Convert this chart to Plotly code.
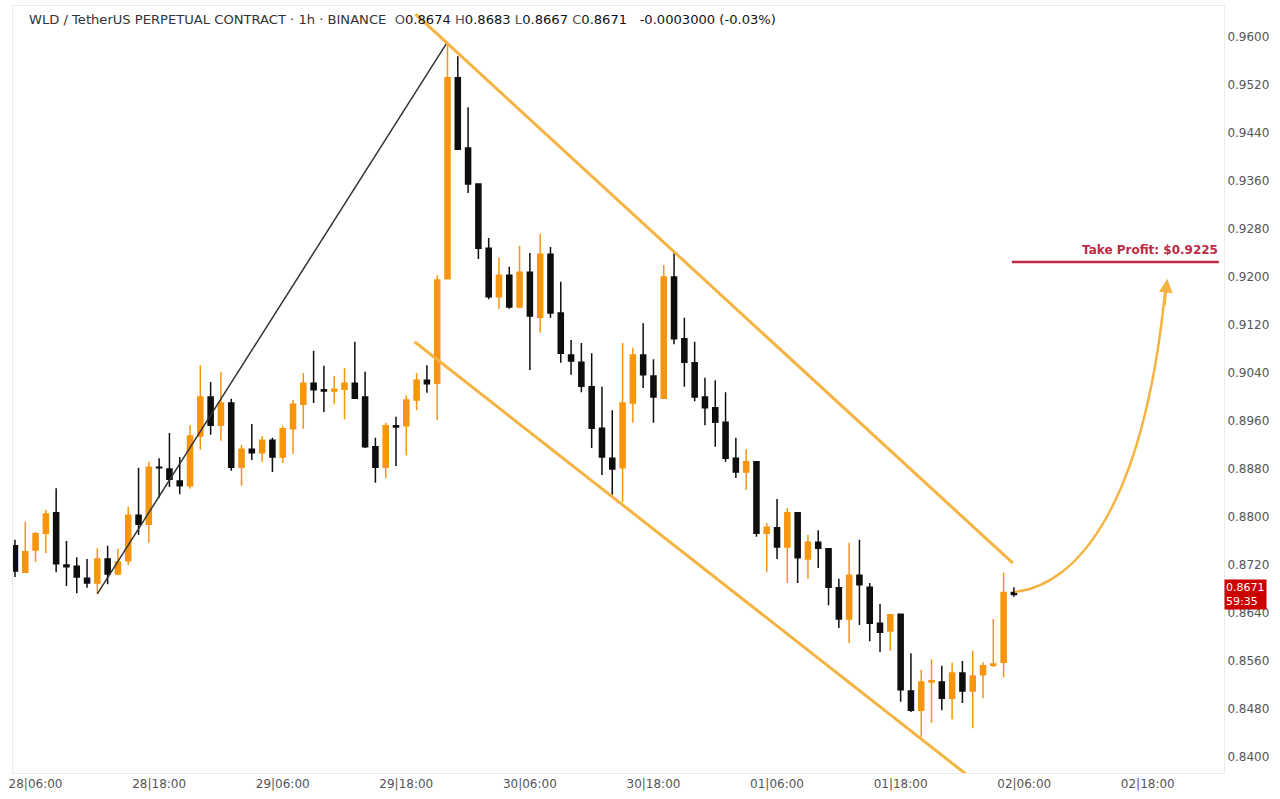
import pandas as pd
import plotly.graph_objects as go

# hourly candles, 28|04:00 -> 02|05:00
START = "2024-09-28 04:00"

opens = [
    0.8752, 0.8708, 0.8745, 0.8773, 0.8807, 0.8720, 0.8718, 0.8698, 0.8690, 0.8730,
    0.8705, 0.8727, 0.8803, 0.8788, 0.8883, 0.8880, 0.8860, 0.8852, 0.8935, 0.9000,
    0.8953, 0.8990, 0.8883, 0.8913, 0.8907, 0.8928, 0.8900, 0.8947, 0.8988, 0.9023,
    0.9012, 0.9010, 0.9013, 0.9023, 0.9000, 0.8917, 0.8883, 0.8952, 0.8952, 0.8995,
    0.9028, 0.9023, 0.9197, 0.9532, 0.9415, 0.9355, 0.9248, 0.9167, 0.9203, 0.9150,
    0.9208, 0.9133, 0.9238, 0.9140, 0.9070, 0.9058, 0.9017, 0.8948, 0.8898, 0.8882,
    0.8990, 0.9070, 0.9035, 0.8998, 0.9200, 0.9097, 0.9057, 0.9000, 0.8982, 0.8958,
    0.8898, 0.8875, 0.8892, 0.8773, 0.8782, 0.8750, 0.8807, 0.8730, 0.8758, 0.8747,
    0.8682, 0.8630, 0.8703, 0.8683, 0.8623, 0.8610, 0.8638, 0.8510, 0.8478, 0.8525,
    0.8525, 0.8498, 0.8540, 0.8510, 0.8537, 0.8553, 0.8558, 0.8674,
]
highs = [
    0.8762, 0.8792, 0.8775, 0.8812, 0.8848, 0.8760, 0.8733, 0.8730, 0.8748, 0.8752,
    0.8747, 0.8817, 0.8882, 0.8892, 0.8898, 0.8940, 0.8900, 0.8953, 0.9053, 0.9025,
    0.9042, 0.8997, 0.8920, 0.8955, 0.8935, 0.8932, 0.8952, 0.8995, 0.9040, 0.9077,
    0.9052, 0.9035, 0.9048, 0.9092, 0.9042, 0.8932, 0.8957, 0.8967, 0.9003, 0.9040,
    0.9053, 0.9203, 0.9592, 0.9568, 0.9483, 0.9355, 0.9265, 0.9232, 0.9217, 0.9252,
    0.9240, 0.9272, 0.9250, 0.9192, 0.9095, 0.9090, 0.9073, 0.9017, 0.8978, 0.9090,
    0.9082, 0.9123, 0.9063, 0.9220, 0.9242, 0.9132, 0.9092, 0.9032, 0.9028, 0.9008,
    0.8932, 0.8913, 0.8892, 0.8790, 0.8830, 0.8815, 0.8807, 0.8770, 0.8778, 0.8748,
    0.8697, 0.8757, 0.8762, 0.8690, 0.8655, 0.8638, 0.8638, 0.8573, 0.8545, 0.8563,
    0.8552, 0.8557, 0.8560, 0.8577, 0.8558, 0.8630, 0.8707, 0.8683,
]
lows = [
    0.8700, 0.8707, 0.8725, 0.8740, 0.8708, 0.8685, 0.8673, 0.8682, 0.8672, 0.8688,
    0.8703, 0.8720, 0.8770, 0.8757, 0.8832, 0.8850, 0.8838, 0.8847, 0.8912, 0.8937,
    0.8927, 0.8877, 0.8852, 0.8895, 0.8892, 0.8875, 0.8890, 0.8905, 0.8947, 0.8990,
    0.8975, 0.8988, 0.8963, 0.8997, 0.8915, 0.8857, 0.8865, 0.8885, 0.8903, 0.8978,
    0.9007, 0.8962, 0.9197, 0.9413, 0.9340, 0.9230, 0.9163, 0.9147, 0.9147, 0.9148,
    0.9045, 0.9107, 0.9132, 0.9057, 0.9037, 0.9008, 0.8915, 0.8870, 0.8837, 0.8825,
    0.8957, 0.9015, 0.8957, 0.8997, 0.9088, 0.9017, 0.8993, 0.8953, 0.8917, 0.8892,
    0.8865, 0.8845, 0.8767, 0.8708, 0.8730, 0.8690, 0.8690, 0.8697, 0.8715, 0.8653,
    0.8615, 0.8590, 0.8620, 0.8593, 0.8575, 0.8577, 0.8492, 0.8475, 0.8433, 0.8457,
    0.8478, 0.8463, 0.8490, 0.8448, 0.8498, 0.8550, 0.8533, 0.8667,
]
closes = [
    0.8710, 0.8742, 0.8772, 0.8805, 0.8722, 0.8717, 0.8700, 0.8690, 0.8730, 0.8705,
    0.8725, 0.8803, 0.8788, 0.8883, 0.8882, 0.8863, 0.8852, 0.8935, 0.9000, 0.8953,
    0.8990, 0.8883, 0.8913, 0.8907, 0.8928, 0.8900, 0.8947, 0.8988, 0.9023, 0.9012,
    0.9010, 0.9013, 0.9023, 0.8998, 0.8917, 0.8883, 0.8952, 0.8950, 0.8995, 0.9028,
    0.9022, 0.9195, 0.9532, 0.9413, 0.9355, 0.9248, 0.9167, 0.9203, 0.9150, 0.9208,
    0.9135, 0.9238, 0.9140, 0.9073, 0.9060, 0.9018, 0.8948, 0.8900, 0.8880, 0.8990,
    0.9070, 0.9037, 0.9000, 0.9200, 0.9097, 0.9058, 0.9000, 0.8982, 0.8958, 0.8898,
    0.8875, 0.8892, 0.8773, 0.8783, 0.8750, 0.8807, 0.8732, 0.8758, 0.8748, 0.8683,
    0.8630, 0.8703, 0.8687, 0.8623, 0.8608, 0.8637, 0.8512, 0.8478, 0.8525, 0.8527,
    0.8498, 0.8540, 0.8510, 0.8535, 0.8552, 0.8555, 0.8674, 0.8671,
]

tick_labels = ["28|06:00", "28|18:00", "29|06:00", "29|18:00", "30|06:00",
               "30|18:00", "01|06:00", "01|18:00", "02|06:00", "02|18:00"]

take_profit = 0.9225
last_price = 0.8671
countdown = "59:35"

UP = "#F7960E"
DOWN = "#0E0E0E"
CHANNEL = "#F5B342"
TP_RED = "#BE2A45"
FONT = "DejaVu Sans"

times = pd.date_range(START, periods=len(opens), freq="h")
tick_times = pd.date_range("2024-09-28 06:00", periods=len(tick_labels), freq="12h")
t0 = pd.Timestamp(START)


def at(hours):
    return t0 + pd.Timedelta(hours=hours)


def path_pt(hours, price):
    return f"{at(hours).strftime('%Y-%m-%d_%H:%M:%S')},{price}"


fig = go.Figure()
fig.add_trace(go.Candlestick(
    x=times, open=opens, high=highs, low=lows, close=closes,
    increasing=dict(line=dict(color=UP, width=1.5), fillcolor=UP),
    decreasing=dict(line=dict(color=DOWN, width=1.5), fillcolor=DOWN),
    whiskerwidth=0,
    showlegend=False,
    hoverinfo="skip",
))

shapes = [
    # rising leg
    dict(type="line", xref="x", yref="y", x0=times[8], y0=lows[8],
         x1=times[42], y1=highs[42], line=dict(color="#333333", width=1.5)),
    # descending channel
    dict(type="line", xref="x", yref="y", x0=at(38.9), y0=0.9638,
         x1=at(96.9), y1=0.8723, line=dict(color=CHANNEL, width=3)),
    dict(type="line", xref="x", yref="y", x0=at(38.8), y0=0.9092,
         x1=at(92.6), y1=0.8368, line=dict(color=CHANNEL, width=3)),
    # take profit
    dict(type="line", xref="x", yref="y", x0=at(96.8), y0=take_profit,
         x1=at(116.9), y1=take_profit, line=dict(color=TP_RED, width=2.5)),
    # projected move
    dict(type="path", xref="x", yref="y",
         path="M " + path_pt(97.1, 0.8675) + " C " + path_pt(103.4, 0.8687) + " "
              + path_pt(109.7, 0.8828) + " " + path_pt(111.7, 0.9180),
         line=dict(color=CHANNEL, width=2.5)),
]

hdr_lbl = "#555555"
hdr_val = "#111111"
nb = "\u00a0"
header = (
    f"WLD / TetherUS PERPETUAL CONTRACT · 1h · BINANCE{nb}{nb}"
    f"<span style='color:{hdr_lbl}'>O</span><span style='color:{hdr_val}'>0.8674</span>{nb}"
    f"<span style='color:{hdr_lbl}'>H</span><span style='color:{hdr_val}'>0.8683</span>{nb}"
    f"<span style='color:{hdr_lbl}'>L</span><span style='color:{hdr_val}'>0.8667</span>{nb}"
    f"<span style='color:{hdr_lbl}'>C</span><span style='color:{hdr_val}'>0.8671</span>{nb}{nb}{nb}"
    f"<span style='color:{hdr_val}'>-0.0003000 (-0.03%)</span>"
)

annotations = [
    dict(text=header, xref="paper", yref="paper", x=0, y=1, xanchor="left",
         yanchor="middle", xshift=14, yshift=-13, showarrow=False,
         font=dict(family=FONT, size=13.1, color="#333333")),
    dict(text="<b>Take Profit: $0.9225</b>", xref="paper", yref="y", x=1,
         y=take_profit, xanchor="right", yanchor="bottom", xshift=-4, yshift=3,
         showarrow=False, font=dict(family=FONT, size=12, color=TP_RED)),
    dict(text=f"{last_price:.4f}<br>{countdown}", xref="paper", yref="y", x=1,
         y=last_price, xanchor="left", yanchor="middle", align="left",
         showarrow=False, bgcolor="#CC0000", borderpad=1,
         font=dict(family=FONT, size=11, color="white")),
    # arrow head of the projected move
    dict(text="", xref="x", yref="y", axref="x", ayref="y",
         x=at(111.9), y=0.9197, ax=at(111.6), ay=0.9150,
         showarrow=True, arrowhead=2, arrowsize=1.1, arrowwidth=2.5,
         arrowcolor=CHANNEL),
]

fig.update_layout(
    width=1280,
    height=799,
    margin=dict(l=13, r=56, t=6, b=26),
    paper_bgcolor="white",
    plot_bgcolor="white",
    font=dict(family=FONT, size=12, color="#555555"),
    shapes=shapes,
    annotations=annotations,
    showlegend=False,
    hovermode=False,
)

fig.update_xaxes(
    range=[at(-0.19), at(117.4)],
    rangeslider_visible=False,
    tickvals=tick_times,
    ticktext=tick_labels,
    showgrid=False,
    zeroline=False,
    showline=True,
    mirror=True,
    linecolor="#ECECEC",
    linewidth=1,
    ticks="",
    tickfont=dict(family=FONT, size=12, color="#555555"),
)
fig.update_yaxes(
    range=[0.83733, 0.96517],
    side="right",
    tick0=0.84,
    dtick=0.008,
    tickformat=".4f",
    showgrid=False,
    zeroline=False,
    showline=True,
    mirror=True,
    linecolor="#ECECEC",
    linewidth=1,
    ticks="",
    tickfont=dict(family=FONT, size=12, color="#555555"),
)

# drop the default page margin so the figure sits at the window origin
fig.write_html(
    "out.html",
    config={"displayModeBar": False},
    post_script="document.body.style.margin = '0';",
)
